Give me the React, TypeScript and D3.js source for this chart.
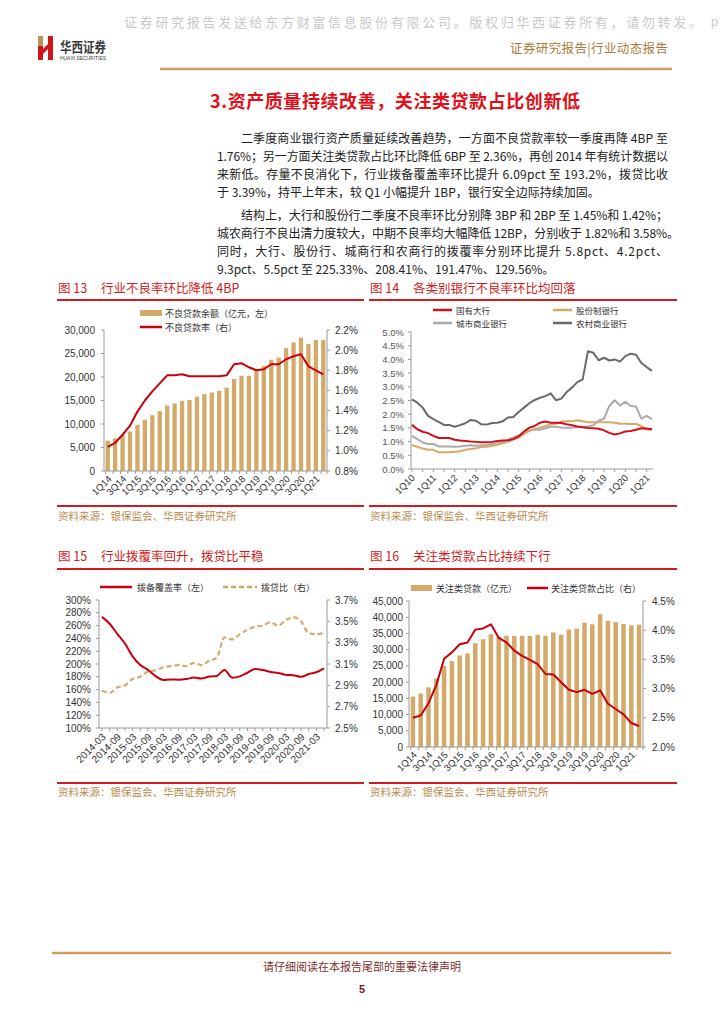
import React from 'react';
import * as d3 from 'd3';

// ---------- categories ----------
const quarters14 = ['1Q14','2Q14','3Q14','4Q14','1Q15','2Q15','3Q15','4Q15','1Q16','2Q16','3Q16','4Q16','1Q17','2Q17','3Q17','4Q17','1Q18','2Q18','3Q18','4Q18','1Q19','2Q19','3Q19','4Q19','1Q20','2Q20','3Q20','4Q20','1Q21','2Q21'];
const quarters10 = ['1Q10','2Q10','3Q10','4Q10','1Q11','2Q11','3Q11','4Q11','1Q12','2Q12','3Q12','4Q12','1Q13','2Q13','3Q13','4Q13','1Q14','2Q14','3Q14','4Q14','1Q15','2Q15','3Q15','4Q15','1Q16','2Q16','3Q16','4Q16','1Q17','2Q17','3Q17','4Q17','1Q18','2Q18','3Q18','4Q18','1Q19','2Q19','3Q19','4Q19','1Q20','2Q20','3Q20','4Q20','1Q21','2Q21'];
const months15 = ['2014-03','2014-06','2014-09','2014-12','2015-03','2015-06','2015-09','2015-12','2016-03','2016-06','2016-09','2016-12','2017-03','2017-06','2017-09','2017-12','2018-03','2018-06','2018-09','2018-12','2019-03','2019-06','2019-09','2019-12','2020-03','2020-06','2020-09','2020-12','2021-03','2021-06'];

// ---------- Fig 13 ----------
const nplBalance = [6461,6944,7669,8426,9825,10919,11863,12744,13921,14373,14940,15122,15795,16358,16704,17057,17742,19571,20254,20254,21571,22352,23672,24135,26136,27365,28350,27015,27883,27900];
const nplRatio = [1.04,1.08,1.16,1.25,1.39,1.50,1.59,1.67,1.75,1.75,1.76,1.74,1.74,1.74,1.74,1.74,1.75,1.86,1.87,1.83,1.80,1.81,1.86,1.86,1.91,1.94,1.96,1.84,1.80,1.76];
const fig13LeftTicks = [0,5000,10000,15000,20000,25000,30000];
const fig13RightTicks = [0.8,1.0,1.2,1.4,1.6,1.8,2.0,2.2];

// ---------- Fig 14 ----------
const bigBanks = [1.61,1.45,1.36,1.31,1.21,1.13,1.13,1.13,1.07,1.04,1.02,1.00,0.99,0.98,0.98,0.99,1.02,1.04,1.05,1.09,1.19,1.37,1.51,1.57,1.69,1.73,1.69,1.69,1.68,1.63,1.60,1.55,1.52,1.50,1.49,1.47,1.41,1.32,1.26,1.30,1.37,1.39,1.43,1.49,1.48,1.45];
const jointStock = [0.87,0.81,0.75,0.70,0.70,0.61,0.61,0.61,0.63,0.65,0.70,0.73,0.76,0.80,0.81,0.85,0.88,0.94,0.99,1.07,1.14,1.27,1.39,1.45,1.51,1.57,1.63,1.65,1.73,1.74,1.74,1.78,1.74,1.71,1.71,1.71,1.71,1.71,1.69,1.65,1.65,1.64,1.64,1.57,1.44,1.42];
const cityBanks = [1.21,1.09,0.97,0.91,0.91,0.82,0.82,0.82,0.81,0.82,0.85,0.87,0.85,0.87,0.88,0.91,0.94,0.99,1.07,1.15,1.23,1.33,1.42,1.45,1.43,1.49,1.54,1.54,1.51,1.51,1.51,1.52,1.54,1.55,1.60,1.76,1.84,2.30,2.51,2.32,2.45,2.30,2.28,1.84,1.94,1.82];
const ruralBanks = [2.54,2.42,2.24,1.94,1.82,1.72,1.61,1.61,1.54,1.60,1.67,1.79,1.76,1.63,1.62,1.68,1.69,1.74,1.88,1.90,2.08,2.24,2.40,2.52,2.60,2.66,2.76,2.51,2.57,2.81,2.97,3.17,3.27,4.30,4.24,3.97,4.06,3.96,4.00,3.92,4.12,4.21,4.17,3.87,3.72,3.58];
const fig14Ticks = [0,0.5,1.0,1.5,2.0,2.5,3.0,3.5,4.0,4.5,5.0];
const fig14Names = ['国有大行','股份制银行','城市商业银行','农村商业银行'];

// ---------- Fig 15 ----------
const coverage = [273.66,262.88,247.15,232.06,211.98,198.39,190.79,181.18,175.03,175.96,175.52,176.40,178.76,177.18,180.39,181.42,190.75,178.70,180.73,186.31,192.17,190.61,187.63,186.08,183.20,182.40,179.89,184.47,187.10,193.20];
const provisionRatio = [2.85,2.83,2.88,2.90,2.96,2.98,3.03,3.04,3.07,3.08,3.09,3.08,3.11,3.09,3.13,3.16,3.35,3.33,3.38,3.42,3.45,3.46,3.49,3.46,3.51,3.54,3.50,3.39,3.38,3.39];
const fig15LeftTicks = [100,120,140,160,180,200,220,240,260,280,300];
const fig15RightTicks = [2.5,2.7,2.9,3.1,3.3,3.5,3.7];

// ---------- Fig 16 ----------
const attentionLoans = [15540,16460,18400,21060,24950,26480,28220,28830,32000,33230,34760,33950,34300,34200,34300,34200,34600,34300,35300,34600,36200,36500,38300,37800,40900,38900,38500,37900,37500,37700];
const attentionRatio = [2.50,2.54,2.75,3.06,3.51,3.62,3.76,3.79,4.01,4.03,4.10,3.87,3.79,3.65,3.56,3.49,3.42,3.25,3.24,3.11,2.98,2.94,2.98,2.91,2.97,2.74,2.65,2.56,2.41,2.36];
const fig16LeftTicks = [0,5000,10000,15000,20000,25000,30000,35000,40000,45000];
const fig16RightTicks = [2.0,2.5,3.0,3.5,4.0,4.5];

// ---------- text ----------
const para1 = [
  '二季度商业银行资产质量延续改善趋势，一方面不良贷款率较一季度再降 4BP 至',
  '1.76%；另一方面关注类贷款占比环比降低 6BP 至 2.36%，再创 2014 年有统计数据以',
  '来新低。存量不良消化下，行业拨备覆盖率环比提升 6.09pct 至 193.2%，拨贷比收',
  '于 3.39%，持平上年末，较 Q1 小幅提升 1BP，银行安全边际持续加固。',
];
const para2 = [
  '结构上，大行和股份行二季度不良率环比分别降 3BP 和 2BP 至 1.45%和 1.42%；',
  '城农商行不良出清力度较大，中期不良率均大幅降低 12BP，分别收于 1.82%和 3.58%。',
  '同时，大行、股份行、城商行和农商行的拨覆率分别环比提升 5.8pct、4.2pct、',
  '9.3pct、5.5pct 至 225.33%、208.41%、191.47%、129.56%。',
];

const CJK = "'Noto Sans CJK SC', 'Noto Sans CJK JP', sans-serif";
const NUM = "'Liberation Sans', Arial, sans-serif";
const RULE_RED = '#cf1b22';
const LINE_RED = '#c8000d';
const TAN = '#d4aa6b';
const SRC = '#b98c50';
const AXIS = '#9a9a9a';
const LABEL = '#333333';

const fmtThousands = d3.format(',');
const fmtPct1 = (d: number) => d.toFixed(1) + '%';
const fmtPct0 = (d: number) => d3.format('d')(d) + '%';

function FigFrame({ x0, x1, title, num, topY, botY, titleY, srcY }: any) {
  return (
    <g>
      <text x={x0 + 1} y={titleY} fill={RULE_RED} fontFamily={CJK} fontSize={12.5} dominantBaseline="central">图 {num}</text>
      <text x={x0 + 44} y={titleY} fill={RULE_RED} fontFamily={CJK} fontSize={12.5} dominantBaseline="central">{title}</text>
      <line x1={x0} x2={x1} y1={topY} y2={topY} stroke={RULE_RED} strokeWidth={2} />
      <line x1={x0} x2={x1} y1={botY} y2={botY} stroke={RULE_RED} strokeWidth={2} />
      <text x={x0 + 1} y={srcY} fill={SRC} fontFamily={CJK} fontSize={10.5} dominantBaseline="central">资料来源：银保监会、华西证券研究所</text>
    </g>
  );
}

function BarLineChart({ cats, bars, line, xr, yr, leftDomain, rightDomain, leftTicks, rightTicks, leftFmt, rightFmt, leftLabelX, rightLabelX }: any) {
  const x = d3.scaleBand<string>().domain(cats).range(xr).paddingInner(0.42).paddingOuter(0.21);
  const yL = d3.scaleLinear().domain(leftDomain).range(yr);
  const yR = d3.scaleLinear().domain(rightDomain).range(yr);
  const cx = (c: string) => (x(c) as number) + x.bandwidth() / 2;
  const path = d3.line<number>().x((_, i) => cx(cats[i])).y(d => yR(d))(line) as string;
  return (
    <g>
      {cats.map((c: string, i: number) => (
        <rect key={c} x={x(c)} y={yL(bars[i])} width={x.bandwidth()} height={yL(0) - yL(bars[i])} fill={TAN} />
      ))}
      <line x1={xr[0]} x2={xr[0]} y1={yr[0]} y2={yr[1]} stroke={AXIS} strokeWidth={1} />
      <line x1={xr[1]} x2={xr[1]} y1={yr[0]} y2={yr[1]} stroke={AXIS} strokeWidth={1} />
      <line x1={xr[0]} x2={xr[1]} y1={yr[0]} y2={yr[0]} stroke={AXIS} strokeWidth={1} />
      {leftTicks.map((t: number) => (
        <g key={'l' + t}>
          <line x1={xr[0] - 3} x2={xr[0]} y1={yL(t)} y2={yL(t)} stroke={AXIS} />
          <text x={leftLabelX} y={yL(t)} textAnchor="end" dominantBaseline="central" fontFamily={NUM} fontSize={10} fill={LABEL}>{leftFmt(t)}</text>
        </g>
      ))}
      {rightTicks.map((t: number) => (
        <g key={'r' + t}>
          <line x1={xr[1]} x2={xr[1] + 3} y1={yR(t)} y2={yR(t)} stroke={AXIS} />
          <text x={rightLabelX} y={yR(t)} dominantBaseline="central" fontFamily={NUM} fontSize={10} fill={LABEL}>{rightFmt(t)}</text>
        </g>
      ))}
      {cats.map((c: string) => (
        <line key={'t' + c} x1={x(c)} x2={x(c)} y1={yr[0]} y2={yr[0] + 3} stroke={AXIS} />
      ))}
      <line x1={xr[1]} x2={xr[1]} y1={yr[0]} y2={yr[0] + 3} stroke={AXIS} />
      {cats.map((c: string, i: number) => i % 2 === 0 ? (
        <text key={'x' + c} transform={`translate(${cx(c) + 2},${yr[0] + 6}) rotate(-45)`} textAnchor="end" dominantBaseline="central" fontFamily={NUM} fontSize={9.5} fill={LABEL}>{c}</text>
      ) : null)}
      <path d={path} fill="none" stroke={LINE_RED} strokeWidth={2} strokeLinejoin="round" />
    </g>
  );
}

function Fig14() {
  const xr = [411, 653];
  const yr = [469, 332];
  const x = d3.scalePoint<string>().domain(quarters10).range([412, 652]);
  const y = d3.scaleLinear().domain([0, 5]).range(yr);
  const series = [
    { name: fig14Names[2], data: cityBanks, color: '#ababab' },
    { name: fig14Names[1], data: jointStock, color: '#d6aa68' },
    { name: fig14Names[0], data: bigBanks, color: '#d0101a' },
    { name: fig14Names[3], data: ruralBanks, color: '#6a6a6a' },
  ];
  const legend = [
    { name: fig14Names[0], color: '#d0101a', lx: 433, ly: 310 },
    { name: fig14Names[1], color: '#d6aa68', lx: 553, ly: 310 },
    { name: fig14Names[2], color: '#ababab', lx: 433, ly: 323 },
    { name: fig14Names[3], color: '#6a6a6a', lx: 553, ly: 323 },
  ];
  return (
    <g>
      {legend.map(l => (
        <g key={l.name}>
          <line x1={l.lx} x2={l.lx + 19} y1={l.ly} y2={l.ly} stroke={l.color} strokeWidth={2.5} />
          <text x={l.lx + 23} y={l.ly} dominantBaseline="central" fontFamily={CJK} fontSize={8.5} fill={LABEL}>{l.name}</text>
        </g>
      ))}
      <line x1={xr[0]} x2={xr[0]} y1={yr[0]} y2={yr[1]} stroke={AXIS} />
      <line x1={xr[0]} x2={xr[1]} y1={yr[0]} y2={yr[0]} stroke={AXIS} />
      {fig14Ticks.map(t => (
        <g key={t}>
          <line x1={xr[0] - 3} x2={xr[0]} y1={y(t)} y2={y(t)} stroke={AXIS} />
          <text x={404} y={y(t)} textAnchor="end" dominantBaseline="central" fontFamily={NUM} fontSize={9.5} fill="#555">{fmtPct1(t)}</text>
        </g>
      ))}
      {quarters10.map((c, i) => i % 2 === 0 ? (
        <line key={'t' + c} x1={x(c)} x2={x(c)} y1={yr[0]} y2={yr[0] + 3} stroke={AXIS} />
      ) : null)}
      {quarters10.map((c, i) => i % 4 === 0 ? (
        <text key={'x' + c} transform={`translate(${(x(c) as number) + 1},${yr[0] + 7}) rotate(-45)`} textAnchor="end" dominantBaseline="central" fontFamily={NUM} fontSize={9.5} fill={LABEL}>{c}</text>
      ) : null)}
      {series.map(s => (
        <path key={s.name} d={d3.line<number>().x((_, i) => x(quarters10[i]) as number).y(d => y(d))(s.data) as string} fill="none" stroke={s.color} strokeWidth={2} strokeLinejoin="round" />
      ))}
    </g>
  );
}

function Fig15() {
  const xr = [99, 327];
  const yr = [728, 600];
  const x = d3.scalePoint<string>().domain(months15).range([102, 324]);
  const yL = d3.scaleLinear().domain([100, 300]).range(yr);
  const yR = d3.scaleLinear().domain([2.5, 3.7]).range(yr);
  const red = d3.line<number>().x((_, i) => x(months15[i]) as number).y(d => yL(d)).curve(d3.curveMonotoneX)(coverage) as string;
  const tan = d3.line<number>().x((_, i) => x(months15[i]) as number).y(d => yR(d)).curve(d3.curveMonotoneX)(provisionRatio) as string;
  return (
    <g>
      <line x1={100} x2={132} y1={587} y2={587} stroke={LINE_RED} strokeWidth={2.5} />
      <text x={137} y={587} dominantBaseline="central" fontFamily={CJK} fontSize={9} fill={LABEL}>拨备覆盖率（左）</text>
      <line x1={223} x2={257} y1={587} y2={587} stroke={TAN} strokeWidth={2.5} strokeDasharray="5,3" />
      <text x={261} y={587} dominantBaseline="central" fontFamily={CJK} fontSize={9} fill={LABEL}>拨贷比（右）</text>
      <line x1={xr[0]} x2={xr[0]} y1={yr[0]} y2={yr[1]} stroke={AXIS} />
      <line x1={xr[1]} x2={xr[1]} y1={yr[0]} y2={yr[1]} stroke={AXIS} />
      <line x1={xr[0]} x2={xr[1]} y1={yr[0]} y2={yr[0]} stroke={AXIS} />
      {fig15LeftTicks.map(t => (
        <g key={'l' + t}>
          <line x1={xr[0] - 3} x2={xr[0]} y1={yL(t)} y2={yL(t)} stroke={AXIS} />
          <text x={91} y={yL(t)} textAnchor="end" dominantBaseline="central" fontFamily={NUM} fontSize={10} fill={LABEL}>{fmtPct0(t)}</text>
        </g>
      ))}
      {fig15RightTicks.map(t => (
        <g key={'r' + t}>
          <line x1={xr[1]} x2={xr[1] + 3} y1={yR(t)} y2={yR(t)} stroke={AXIS} />
          <text x={335} y={yR(t)} dominantBaseline="central" fontFamily={NUM} fontSize={10} fill={LABEL}>{fmtPct1(t)}</text>
        </g>
      ))}
      {months15.map(c => (
        <line key={'t' + c} x1={x(c)} x2={x(c)} y1={yr[0]} y2={yr[0] + 3} stroke={AXIS} />
      ))}
      {months15.map((c, i) => i % 2 === 0 ? (
        <text key={'x' + c} transform={`translate(${(x(c) as number) + 2},${yr[0] + 7}) rotate(-45)`} textAnchor="end" dominantBaseline="central" fontFamily={NUM} fontSize={10} fill={LABEL}>{c}</text>
      ) : null)}
      <path d={tan} fill="none" stroke={TAN} strokeWidth={2.2} strokeDasharray="5,3" />
      <path d={red} fill="none" stroke={LINE_RED} strokeWidth={2} />
    </g>
  );
}

function Header() {
  return (
    <g>
      <text x={124} y={21} fontFamily={CJK} fontSize={13} fill="#c9c9c9" dominantBaseline="central" textLength={578} lengthAdjust="spacing">证券研究报告发送给东方财富信息股份有限公司。版权归华西证券所有，请勿转发。</text>
      <text x={711} y={21} fontFamily={NUM} fontSize={13} fill="#c9c9c9" dominantBaseline="central">p</text>
      <rect x={38} y={36} width={5} height={12} fill="#b8935a" />
      <rect x={38} y={46} width={5} height={14} fill="#d0161b" />
      <rect x={48} y={36} width={5} height={24} fill="#d0161b" />
      <polygon points="43,49 48,44 48,49 43,54" fill="#d0161b" />
      <text x={60} y={46} fontFamily={CJK} fontSize={13.5} fontWeight="bold" fill="#3b3b3b" dominantBaseline="central" textLength={46} lengthAdjust="spacingAndGlyphs">华西证券</text>
      <text x={60} y={58} fontFamily={NUM} fontSize={5.5} fill="#3b3b3b" dominantBaseline="central" textLength={46} lengthAdjust="spacingAndGlyphs">HUAXI SECURITIES</text>
      <text x={510} y={47} fontFamily={CJK} fontSize={12.5} fill="#a97c3e" dominantBaseline="central" textLength={158} lengthAdjust="spacing">证券研究报告|行业动态报告</text>
      <line x1={160} x2={672} y1={69} y2={69} stroke="#c9a063" strokeWidth={2.5} />
    </g>
  );
}

function Body() {
  const p1y = [137, 155, 173, 191];
  const p2y = [214, 232, 250, 268];
  const widths1 = [427, 451, 451, null];
  const xs1 = [241, 217, 217, 217];
  const widths2 = [427, 462, 451, null];
  return (
    <g>
      <text x={395} y={100} textAnchor="middle" dominantBaseline="central" fontFamily={CJK} fontSize={18} fontWeight="bold" fill="#e0101a" textLength={370} lengthAdjust="spacing">3.资产质量持续改善，关注类贷款占比创新低</text>
      {para1.map((s, i) => (
        <text key={'a' + i} x={xs1[i]} y={p1y[i]} dominantBaseline="central" fontFamily={CJK} fontSize={12} fill="#222" {...(widths1[i] ? { textLength: widths1[i], lengthAdjust: 'spacing' } : {})}>{s}</text>
      ))}
      {para2.map((s, i) => (
        <text key={'b' + i} x={xs1[i]} y={p2y[i]} dominantBaseline="central" fontFamily={CJK} fontSize={12} fill="#222" {...(widths2[i] ? { textLength: widths2[i], lengthAdjust: 'spacing' } : {})}>{s}</text>
      ))}
    </g>
  );
}

function Footer() {
  return (
    <g>
      <line x1={52} x2={671} y1={953} y2={953} stroke="#c9a063" strokeWidth={2.5} />
      <text x={362} y={966} textAnchor="middle" dominantBaseline="central" fontFamily={CJK} fontSize={11} fill="#7d2f2f">请仔细阅读在本报告尾部的重要法律声明</text>
      <text x={362} y={989} textAnchor="middle" dominantBaseline="central" fontFamily={NUM} fontSize={11} fontWeight="bold" fill="#7a1a1a">5</text>
    </g>
  );
}

export default function App() {
  return (
    <svg width={724} height={1024} viewBox="0 0 724 1024" style={{ position: 'absolute', left: 0, top: 0, background: '#fff' }}>
      <rect x={0} y={0} width={724} height={1024} fill="#fff" />
      <Header />
      <Body />

      <FigFrame x0={57} x1={364} num="13" title="行业不良率环比降低 4BP" topY={300} botY={506} titleY={287} srcY={515} />
      <FigFrame x0={369} x1={677} num="14" title="各类别银行不良率环比均回落" topY={300} botY={506} titleY={287} srcY={515} />
      <FigFrame x0={57} x1={364} num="15" title="行业拨覆率回升，拨贷比平稳" topY={569} botY={783} titleY={555} srcY={791} />
      <FigFrame x0={369} x1={677} num="16" title="关注类贷款占比持续下行" topY={569} botY={783} titleY={555} srcY={791} />

      {/* Fig 13 legend */}
      <rect x={140} y={310} width={22} height={6} fill={TAN} />
      <text x={165} y={313} dominantBaseline="central" fontFamily={CJK} fontSize={9} fill={LABEL}>不良贷款余额（亿元，左）</text>
      <line x1={140} x2={162} y1={327} y2={327} stroke={LINE_RED} strokeWidth={2.5} />
      <text x={165} y={327} dominantBaseline="central" fontFamily={CJK} fontSize={9} fill={LABEL}>不良贷款率（右）</text>
      <BarLineChart cats={quarters14} bars={nplBalance} line={nplRatio} xr={[104, 327]} yr={[471, 330]} leftDomain={[0, 30000]} rightDomain={[0.8, 2.2]} leftTicks={fig13LeftTicks} rightTicks={fig13RightTicks} leftFmt={fmtThousands} rightFmt={fmtPct1} leftLabelX={95} rightLabelX={335} />

      <Fig14 />
      <Fig15 />

      {/* Fig 16 legend */}
      <rect x={411} y={585} width={21} height={6} fill={TAN} />
      <text x={436} y={588} dominantBaseline="central" fontFamily={CJK} fontSize={9} fill={LABEL}>关注类贷款（亿元）</text>
      <line x1={527} x2={548} y1={588} y2={588} stroke={LINE_RED} strokeWidth={2.5} />
      <text x={551} y={588} dominantBaseline="central" fontFamily={CJK} fontSize={9} fill={LABEL}>关注类贷款占比（右）</text>
      <BarLineChart cats={quarters14} bars={attentionLoans} line={attentionRatio} xr={[409, 643]} yr={[747, 601]} leftDomain={[0, 45000]} rightDomain={[2.0, 4.5]} leftTicks={fig16LeftTicks} rightTicks={fig16RightTicks} leftFmt={fmtThousands} rightFmt={fmtPct1} leftLabelX={403} rightLabelX={652} />

      <Footer />
    </svg>
  );
}
